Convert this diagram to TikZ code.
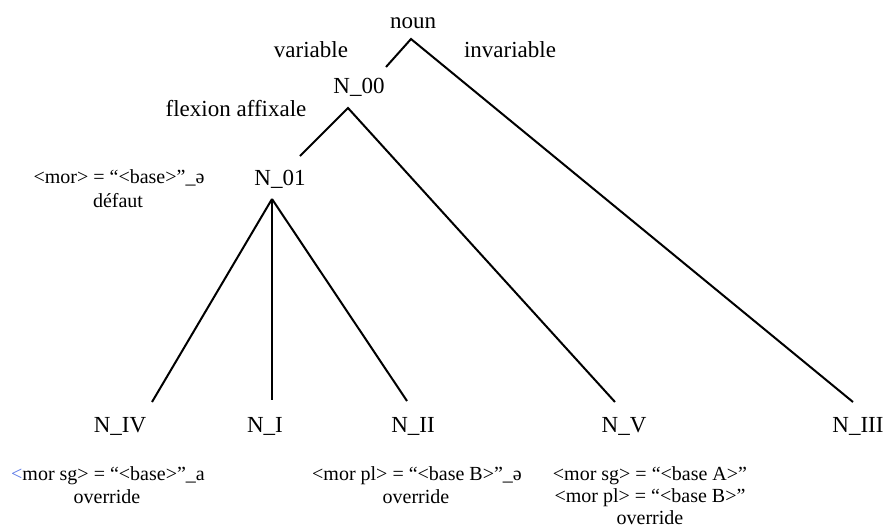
\documentclass[tikz,border=0pt]{standalone}
\usepackage{fontspec}
\setmainfont{Liberation Serif}
\definecolor{ltblue}{RGB}{90,120,230}
\begin{document}
\begin{tikzpicture}[x=1pt,y=-1pt,
  big/.style={anchor=base,inner sep=0pt,font=\fontsize{23}{27}\selectfont},
  small/.style={anchor=base,inner sep=0pt,font=\fontsize{20}{23}\selectfont},
  edge/.style={line width=2pt,line cap=butt}]
\useasboundingbox (0,0) rectangle (887,528);
% tree nodes
\node[big] (noun) at (413,28) {noun};
\node[big] (var) at (311,57) {variable};
\node[big] (invar) at (510,57) {invariable};
\node[big] (n00) at (359,93) {N\_00};
\node[big] (flex) at (236,116) {flexion affixale};
\node[big] (n01) at (280,185) {N\_01};
\node[big] (nIV) at (120,432) {N\_IV};
\node[big] (nI) at (265,432) {N\_I};
\node[big] (nII) at (413,432) {N\_II};
\node[big] (nV) at (624,432) {N\_V};
\node[big] (nIII) at (858,432) {N\_III};
% annotations
\node[small] (d1) at (119,183) {<mor> = “<base>”\_ə};
\node[small] (d2) at (118,207) {défaut};
\node[small] (a1) at (108,480) {\textcolor{ltblue}{<}mor sg> = “<base>”\_a};
\node[small] (a2) at (107,503) {override};
\node[small] (b1) at (417,480) {<mor pl> = “<base B>”\_ə};
\node[small] (b2) at (416,503) {override};
\node[small] (c1) at (650,480) {<mor sg> = “<base A>”};
\node[small] (c2) at (650,502) {<mor pl> = “<base B>”};
\node[small] (c3) at (650,524) {override};
% connector points
\coordinate (pNoun) at (411,39);
\coordinate (p00) at (348,108);
\coordinate (p01) at (272,199);
\coordinate (e00) at (386,67);
\coordinate (e01) at (300,156);
\coordinate (eIV) at (152,402);
\coordinate (eI) at (272,400);
\coordinate (eII) at (407,401);
\coordinate (eV) at (615,402);
\coordinate (eIII) at (853,402);
\draw[edge] (e00) -- (pNoun) -- (eIII);
\draw[edge] (e01) -- (p00) -- (eV);
\draw[edge] (p01) -- (eIV);
\draw[edge] (p01) -- (eI);
\draw[edge] (p01) -- (eII);
\end{tikzpicture}
\end{document}
